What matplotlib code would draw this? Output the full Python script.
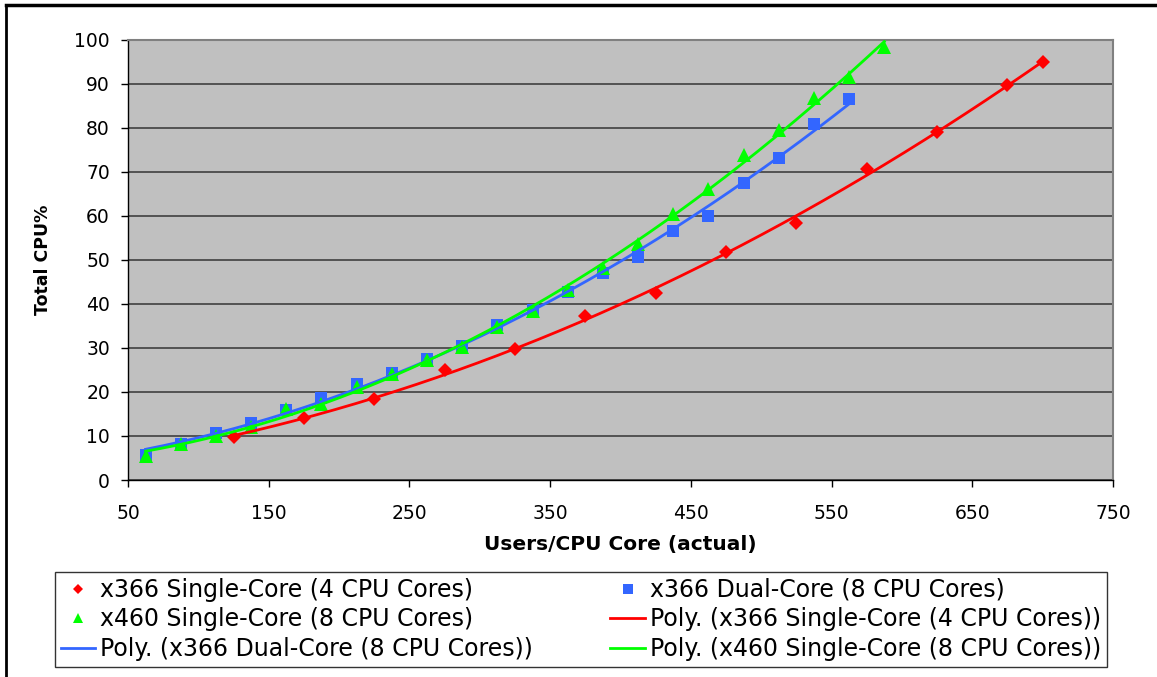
import numpy as np
import matplotlib
matplotlib.use("Agg")
import matplotlib.pyplot as plt
from matplotlib.lines import Line2D

plt.rcParams['font.family'] = ['DejaVu Sans']

# ---- data ----
x_single = [125, 175, 225, 275, 325, 375, 425, 475, 525, 575, 625, 675, 700]
y_single = [9.8, 14.0, 18.3, 25.1, 29.8, 37.2, 42.4, 51.9, 58.3, 70.6, 79.0, 89.8, 95.0]

x_dual = [62.5, 87.5, 112.5, 137.5, 162.5, 187.5, 212.5, 237.5, 262.5, 287.5, 312.5,
          337.5, 362.5, 387.5, 412.5, 437.5, 462.5, 487.5, 512.5, 537.5, 562.5]
y_dual = [5.7, 8.1, 10.7, 13.0, 15.8, 18.6, 21.8, 24.3, 27.5, 30.5, 35.2,
          38.7, 42.7, 47.0, 50.7, 56.6, 60.0, 67.4, 73.2, 80.8, 86.7]

x_x460 = [62.5, 87.5, 112.5, 137.5, 162.5, 187.5, 212.5, 237.5, 262.5, 287.5, 312.5,
          337.5, 362.5, 387.5, 412.5, 437.5, 462.5, 487.5, 512.5, 537.5, 562.5, 587.5]
y_x460 = [5.5, 8.1, 10.0, 12.0, 16.1, 17.3, 21.1, 24.1, 27.3, 30.2, 34.8,
          38.4, 43.2, 48.2, 53.6, 60.5, 66.1, 73.9, 79.5, 86.8, 91.6, 98.4]

labels = ["x366 Single-Core (4 CPU Cores)",
          "x366 Dual-Core (8 CPU Cores)",
          "x460 Single-Core (8 CPU Cores)"]
x_ticks = [50, 150, 250, 350, 450, 550, 650, 750]
y_ticks = [0, 10, 20, 30, 40, 50, 60, 70, 80, 90, 100]

RED, BLUE, GREEN = "#FF0000", "#3366FF", "#00FF00"

W, H = 1157, 677
fig = plt.figure(figsize=(W / 100, H / 100), dpi=100)
ax = fig.add_axes([128 / W, 1 - 480 / H, (1113 - 128) / W, 440 / H])
ax.set_facecolor("#C0C0C0")

series = [
    (x_single, y_single, RED, "D", 7.0),
    (x_dual, y_dual, BLUE, "s", 8.7),
    (x_x460, y_x460, GREEN, "^", 10.0),
]
for xs, ys, c, m, ms in series:
    ax.plot(xs, ys, linestyle="none", marker=m, markersize=ms, color=c,
            markeredgewidth=0, zorder=3)
for xs, ys, c, m, ms in series:
    coef = np.polyfit(xs, ys, 2)
    xx = np.linspace(min(xs), max(xs), 200)
    ax.plot(xx, np.polyval(coef, xx), color=c, lw=2.0, zorder=4)

ax.set_xlim(50, 750)
ax.set_ylim(0, 100)
ax.set_xticks(x_ticks)
ax.set_yticks(y_ticks)
ax.grid(axis="y", color="#404040", lw=1.2, zorder=1)
ax.set_axisbelow(True)
for s in ["top", "right"]:
    ax.spines[s].set_color("#808080")
    ax.spines[s].set_linewidth(1.5)
for s in ["left", "bottom"]:
    ax.spines[s].set_color("#000000")
    ax.spines[s].set_linewidth(1.0)
ax.tick_params(axis="both", direction="out", length=5, width=1, labelsize=13.5,
               color="#000000")
ax.tick_params(axis="y", pad=8)
ax.tick_params(axis="x", pad=12)
ax.set_xlabel("Users/CPU Core (actual)", fontsize=14.5, fontweight="bold", labelpad=9)
ax.set_ylabel("Total CPU%", fontsize=12.5, fontweight="bold", labelpad=16)

# legend (column-major order for 2 columns)
h_single = Line2D([], [], linestyle="none", marker="D", markersize=5, color=RED, markeredgewidth=0)
h_dual = Line2D([], [], linestyle="none", marker="s", markersize=6.5, color=BLUE, markeredgewidth=0)
h_x460 = Line2D([], [], linestyle="none", marker="^", markersize=7.5, color=GREEN, markeredgewidth=0)
l_single = Line2D([], [], color=RED, lw=2.0)
l_dual = Line2D([], [], color=BLUE, lw=2.0)
l_x460 = Line2D([], [], color=GREEN, lw=2.0)
handles = [h_single, h_x460, l_dual, h_dual, l_single, l_x460]
names = [labels[0], labels[2], "Poly. (" + labels[1] + ")",
         labels[1], "Poly. (" + labels[0] + ")", "Poly. (" + labels[2] + ")"]
leg = fig.legend(handles, names, ncol=2, loc="upper left", mode="expand",
                 bbox_to_anchor=(55 / W, 1 - 667 / H, (1107 - 55) / W, 95 / H),
                 borderaxespad=0,
                 fontsize=17, frameon=True, fancybox=False, shadow=False,
                 handlelength=1.45, handletextpad=0.22, columnspacing=1.0,
                 labelspacing=0.23, borderpad=0.25)
leg.get_frame().set_edgecolor("#000000")
leg.get_frame().set_linewidth(1.0)

# outer frame lines of the original figure
fig.add_artist(Line2D([6 / W, 1], [1 - 5 / H, 1 - 5 / H], color="black", lw=2.5,
                      transform=fig.transFigure))
fig.add_artist(Line2D([6 / W, 6 / W], [0, 1 - 5 / H], color="black", lw=2.0,
                      transform=fig.transFigure))

fig.savefig("out.png", dpi=100)
